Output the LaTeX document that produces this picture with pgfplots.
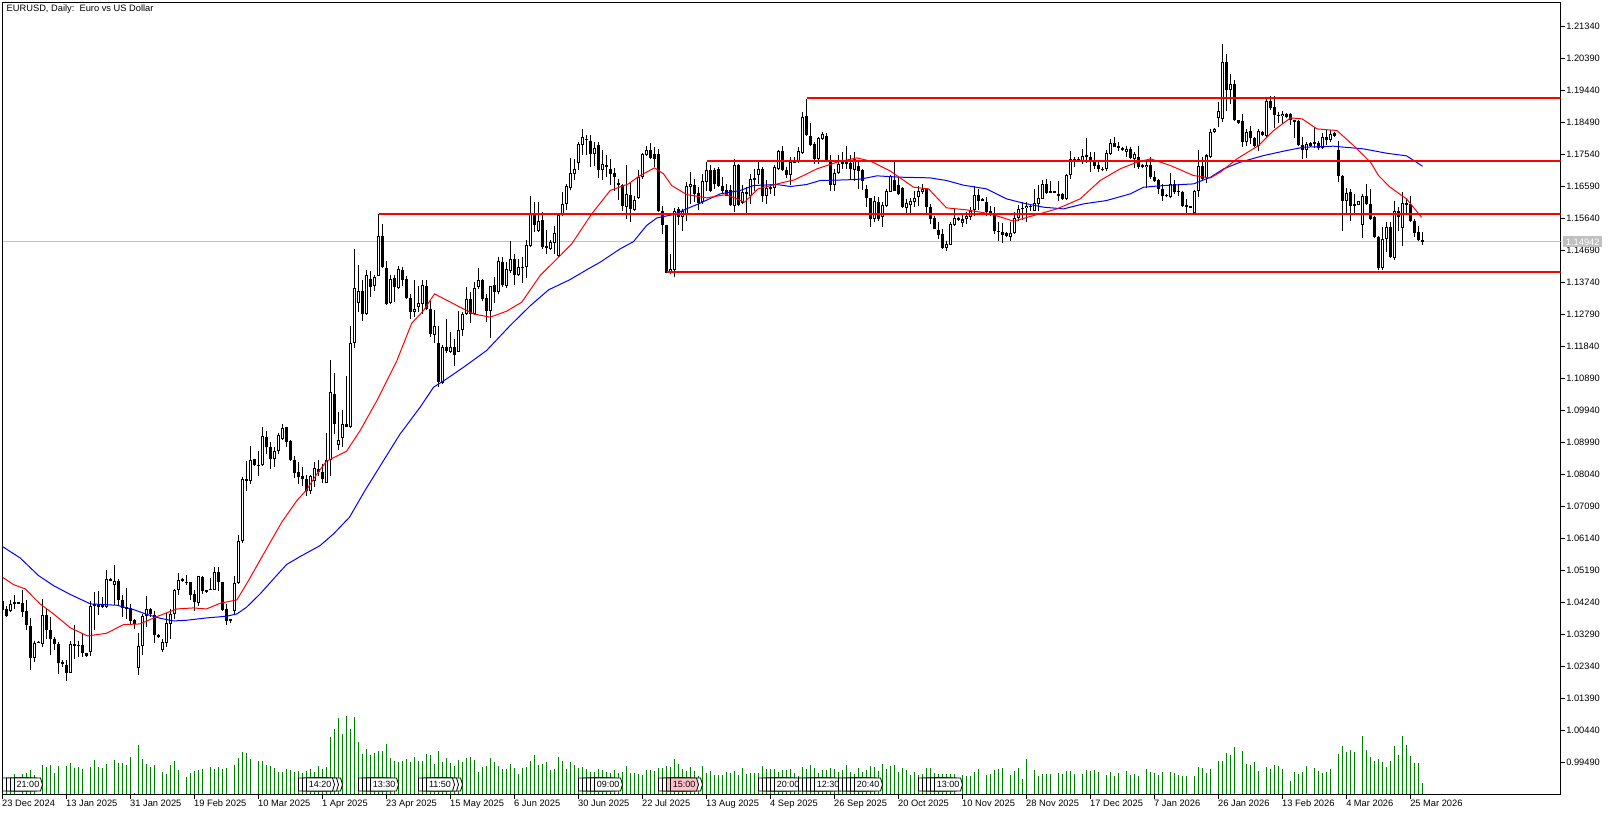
\documentclass[border=0pt]{standalone}
\usepackage{pgfplots}
\usepackage{pgfplotstable}
\usepackage{fontspec}
\setmainfont{Liberation Sans}
\pgfplotsset{compat=1.18}
\definecolor{volgreen}{HTML}{008000}
\definecolor{silverline}{HTML}{C0C0C0}
\definecolor{tagpink}{HTML}{FFC0CB}
\definecolor{tagcyan}{HTML}{E0FFFF}
% up candles: o = bottom of body, c = top of body
\pgfplotstableread{
i o h l c
2 1.0398 1.0430 1.0395 1.0420
3 1.0420 1.0445 1.0405 1.0426
8 1.0259 1.0311 1.0247 1.0305
10 1.0301 1.0435 1.0291 1.0388
17 1.0215 1.0309 1.0215 1.0301
22 1.0277 1.0428 1.0266 1.0415
26 1.0412 1.0521 1.0408 1.0494
28 1.0476 1.0534 1.0418 1.0488
34 1.0230 1.0333 1.0209 1.0295
35 1.0295 1.0390 1.0269 1.0385
36 1.0383 1.0442 1.0351 1.0405
40 1.0283 1.0316 1.0276 1.0307
41 1.0304 1.0392 1.0291 1.0363
42 1.0360 1.0405 1.0316 1.0390
43 1.0390 1.0464 1.0375 1.0462
44 1.0461 1.0513 1.0445 1.0491
49 1.0422 1.0504 1.0415 1.0503
53 1.0462 1.0529 1.0461 1.0516
58 1.0400 1.0504 1.0390 1.0482
59 1.0481 1.0623 1.0479 1.0607
60 1.0606 1.0798 1.0600 1.0791
62 1.0784 1.0890 1.0776 1.0847
65 1.0833 1.0946 1.0829 1.0918
68 1.0849 1.0885 1.0825 1.0874
69 1.0875 1.0926 1.0865 1.0921
70 1.0909 1.0954 1.0906 1.0942
77 1.0756 1.0803 1.0746 1.0800
78 1.0786 1.0840 1.0766 1.0823
81 1.0780 1.0926 1.0778 1.0847
82 1.0847 1.1145 1.0801 1.1049
84 1.0891 1.0989 1.0877 1.0906
85 1.0911 1.0994 1.0885 1.0954
87 1.0944 1.1244 1.0942 1.1195
88 1.1194 1.1474 1.1179 1.1358
89 1.1313 1.1425 1.1286 1.1349
91 1.1279 1.1411 1.1276 1.1397
93 1.1363 1.1397 1.1350 1.1391
94 1.1394 1.1576 1.1392 1.1512
97 1.1312 1.1397 1.1309 1.1385
99 1.1358 1.1424 1.1355 1.1414
103 1.1286 1.1382 1.1273 1.1296
104 1.1300 1.1365 1.1286 1.1313
105 1.1310 1.1382 1.1281 1.1366
108 1.1218 1.1293 1.1194 1.1245
110 1.1076 1.1187 1.1073 1.1183
112 1.1168 1.1228 1.1165 1.1183
114 1.1168 1.1288 1.1167 1.1233
115 1.1233 1.1286 1.1216 1.1281
116 1.1279 1.1362 1.1278 1.1325
118 1.1279 1.1375 1.1278 1.1358
119 1.1362 1.1417 1.1355 1.1382
122 1.1290 1.1365 1.1208 1.1364
124 1.1345 1.1451 1.1340 1.1438
126 1.1365 1.1436 1.1358 1.1414
127 1.1409 1.1496 1.1401 1.1444
129 1.1395 1.1444 1.1392 1.1421
131 1.1419 1.1500 1.1388 1.1486
132 1.1482 1.1632 1.1479 1.1580
134 1.1528 1.1614 1.1523 1.1558
137 1.1474 1.1500 1.1471 1.1493
138 1.1491 1.1543 1.1459 1.1521
139 1.1454 1.1580 1.1451 1.1573
140 1.1573 1.1642 1.1570 1.1608
141 1.1608 1.1667 1.1588 1.1659
142 1.1655 1.1744 1.1649 1.1700
143 1.1695 1.1741 1.1677 1.1712
144 1.1728 1.1791 1.1709 1.1786
145 1.1783 1.1830 1.1751 1.1806
148 1.1754 1.1791 1.1719 1.1774
150 1.1707 1.1766 1.1677 1.1725
156 1.1598 1.1722 1.1563 1.1637
158 1.1588 1.1632 1.1586 1.1620
159 1.1626 1.1707 1.1623 1.1687
160 1.1687 1.1758 1.1682 1.1754
161 1.1751 1.1778 1.1750 1.1768
167 1.1402 1.1459 1.1400 1.1415
168 1.1410 1.1596 1.1390 1.1586
170 1.1568 1.1593 1.1527 1.1586
171 1.1578 1.1672 1.1558 1.1661
172 1.1657 1.1702 1.1606 1.1665
175 1.1613 1.1697 1.1608 1.1674
176 1.1672 1.1733 1.1647 1.1707
183 1.1600 1.1741 1.1583 1.1722
185 1.1611 1.1662 1.1606 1.1644
186 1.1637 1.1657 1.1578 1.1642
187 1.1632 1.1697 1.1608 1.1682
188 1.1679 1.1712 1.1647 1.1685
189 1.1693 1.1731 1.1667 1.1712
191 1.1632 1.1677 1.1608 1.1655
193 1.1655 1.1722 1.1632 1.1718
194 1.1711 1.1768 1.1707 1.1763
197 1.1692 1.1748 1.1664 1.1733
198 1.1731 1.1748 1.1730 1.1733
199 1.1731 1.1776 1.1730 1.1763
200 1.1758 1.1880 1.1754 1.1865
204 1.1741 1.1805 1.1726 1.1803
205 1.1800 1.1822 1.1797 1.1815
208 1.1662 1.1711 1.1647 1.1698
209 1.1698 1.1751 1.1696 1.1726
213 1.1709 1.1761 1.1676 1.1741
218 1.1563 1.1632 1.1553 1.1617
220 1.1568 1.1612 1.1540 1.1604
221 1.1601 1.1652 1.1599 1.1647
222 1.1644 1.1694 1.1642 1.1691
226 1.1595 1.1622 1.1577 1.1610
227 1.1605 1.1625 1.1577 1.1617
228 1.1614 1.1647 1.1597 1.1625
229 1.1627 1.1659 1.1602 1.1645
230 1.1642 1.1666 1.1637 1.1652
236 1.1477 1.1498 1.1467 1.1488
237 1.1486 1.1553 1.1485 1.1548
238 1.1546 1.1592 1.1543 1.1564
240 1.1552 1.1577 1.1540 1.1561
241 1.1561 1.1582 1.1548 1.1572
242 1.1569 1.1597 1.1560 1.1587
243 1.1589 1.1659 1.1572 1.1633
252 1.1510 1.1553 1.1498 1.1521
253 1.1520 1.1582 1.1518 1.1566
254 1.1564 1.1605 1.1556 1.1592
256 1.1595 1.1612 1.1553 1.1602
258 1.1587 1.1652 1.1585 1.1610
259 1.1607 1.1662 1.1585 1.1625
260 1.1622 1.1678 1.1621 1.1666
266 1.1621 1.1696 1.1619 1.1694
267 1.1692 1.1763 1.1681 1.1740
270 1.1736 1.1770 1.1726 1.1750
276 1.1711 1.1768 1.1704 1.1758
277 1.1756 1.1800 1.1751 1.1788
281 1.1761 1.1780 1.1746 1.1770
283 1.1741 1.1761 1.1714 1.1754
286 1.1716 1.1736 1.1655 1.1724
292 1.1627 1.1699 1.1624 1.1665
298 1.1579 1.1649 1.1577 1.1647
299 1.1645 1.1768 1.1629 1.1721
301 1.1684 1.1756 1.1669 1.1751
302 1.1746 1.1830 1.1744 1.1822
303 1.1821 1.1833 1.1819 1.1829
304 1.1862 1.1909 1.1835 1.1884
305 1.1860 1.2082 1.1850 1.2030
307 1.1944 1.1993 1.1904 1.1964
311 1.1790 1.1830 1.1780 1.1821
314 1.1779 1.1830 1.1764 1.1823
316 1.1808 1.1926 1.1807 1.1914
320 1.1868 1.1884 1.1845 1.1875
326 1.1768 1.1790 1.1743 1.1785
330 1.1773 1.1817 1.1771 1.1806
332 1.1798 1.1828 1.1790 1.1815
336 1.1615 1.1655 1.1577 1.1640
339 1.1604 1.1617 1.1603 1.1616
340 1.1545 1.1637 1.1506 1.1632
345 1.1417 1.1538 1.1411 1.1503
346 1.1503 1.1553 1.1464 1.1540
348 1.1447 1.1617 1.1441 1.1586
350 1.1536 1.1642 1.1481 1.1610
}\upcandles
% down candles: o = top of body, c = bottom of body
\pgfplotstableread{
i o h l c
0 1.0427 1.0430 1.0400 1.0403
1 1.0405 1.0413 1.0380 1.0385
4 1.0425 1.0426 1.0419 1.0420
5 1.0423 1.0460 1.0380 1.0397
6 1.0399 1.0430 1.0341 1.0356
7 1.0353 1.0377 1.0224 1.0259
9 1.0308 1.0310 1.0303 1.0304
11 1.0388 1.0405 1.0316 1.0341
12 1.0343 1.0380 1.0269 1.0315
13 1.0317 1.0321 1.0283 1.0300
14 1.0301 1.0308 1.0212 1.0244
15 1.0247 1.0252 1.0232 1.0242
16 1.0237 1.0252 1.0192 1.0215
18 1.0301 1.0356 1.0257 1.0295
19 1.0299 1.0311 1.0262 1.0295
20 1.0299 1.0333 1.0263 1.0273
21 1.0273 1.0275 1.0263 1.0265
23 1.0420 1.0455 1.0341 1.0413
24 1.0418 1.0458 1.0388 1.0412
25 1.0418 1.0440 1.0409 1.0410
27 1.0495 1.0497 1.0487 1.0489
29 1.0489 1.0494 1.0418 1.0432
30 1.0432 1.0447 1.0380 1.0408
31 1.0410 1.0467 1.0375 1.0405
32 1.0407 1.0420 1.0359 1.0370
33 1.0372 1.0375 1.0346 1.0359
37 1.0405 1.0407 1.0380 1.0390
38 1.0387 1.0400 1.0304 1.0327
39 1.0329 1.0331 1.0319 1.0323
45 1.0493 1.0497 1.0485 1.0489
46 1.0486 1.0506 1.0477 1.0481
47 1.0484 1.0486 1.0432 1.0445
48 1.0448 1.0462 1.0398 1.0425
50 1.0501 1.0503 1.0450 1.0457
51 1.0460 1.0462 1.0452 1.0455
52 1.0465 1.0497 1.0460 1.0462
54 1.0516 1.0529 1.0458 1.0484
55 1.0486 1.0486 1.0400 1.0402
56 1.0405 1.0420 1.0358 1.0370
57 1.0375 1.0376 1.0364 1.0370
61 1.0791 1.0845 1.0756 1.0784
63 1.0849 1.0851 1.0829 1.0831
64 1.0833 1.0875 1.0801 1.0829
66 1.0915 1.0932 1.0865 1.0885
67 1.0887 1.0900 1.0820 1.0849
71 1.0944 1.0946 1.0885 1.0900
72 1.0902 1.0905 1.0843 1.0847
73 1.0848 1.0860 1.0794 1.0807
74 1.0811 1.0840 1.0776 1.0798
75 1.0800 1.0825 1.0771 1.0790
76 1.0790 1.0803 1.0741 1.0756
79 1.0819 1.0847 1.0801 1.0810
80 1.0811 1.0835 1.0778 1.0790
83 1.1043 1.1105 1.0924 1.0954
86 1.0954 1.1095 1.0944 1.0946
90 1.1349 1.1380 1.1261 1.1280
92 1.1385 1.1409 1.1332 1.1360
95 1.1512 1.1549 1.1416 1.1419
96 1.1417 1.1439 1.1306 1.1310
98 1.1388 1.1395 1.1315 1.1360
100 1.1411 1.1421 1.1365 1.1382
101 1.1385 1.1392 1.1325 1.1327
102 1.1328 1.1340 1.1265 1.1286
106 1.1364 1.1382 1.1291 1.1294
107 1.1296 1.1320 1.1211 1.1221
109 1.1195 1.1246 1.1063 1.1080
111 1.1183 1.1266 1.1165 1.1170
113 1.1183 1.1206 1.1127 1.1158
117 1.1325 1.1345 1.1253 1.1279
120 1.1382 1.1385 1.1320 1.1324
121 1.1328 1.1340 1.1256 1.1289
123 1.1367 1.1390 1.1312 1.1345
125 1.1435 1.1449 1.1360 1.1368
128 1.1444 1.1459 1.1368 1.1395
130 1.1421 1.1449 1.1372 1.1419
133 1.1580 1.1612 1.1523 1.1544
135 1.1560 1.1583 1.1474 1.1479
136 1.1481 1.1530 1.1459 1.1476
146 1.1801 1.1811 1.1751 1.1797
147 1.1795 1.1811 1.1717 1.1754
149 1.1783 1.1791 1.1685 1.1707
151 1.1723 1.1751 1.1687 1.1720
152 1.1712 1.1741 1.1662 1.1697
153 1.1700 1.1715 1.1647 1.1687
154 1.1670 1.1682 1.1618 1.1662
155 1.1664 1.1667 1.1586 1.1600
157 1.1635 1.1672 1.1555 1.1593
162 1.1766 1.1789 1.1741 1.1744
163 1.1754 1.1776 1.1717 1.1741
164 1.1754 1.1771 1.1583 1.1586
165 1.1586 1.1600 1.1517 1.1545
166 1.1545 1.1546 1.1402 1.1402
169 1.1593 1.1598 1.1546 1.1568
173 1.1664 1.1680 1.1613 1.1637
174 1.1641 1.1657 1.1588 1.1611
177 1.1707 1.1722 1.1642 1.1645
178 1.1707 1.1715 1.1652 1.1667
179 1.1710 1.1718 1.1657 1.1659
180 1.1661 1.1687 1.1637 1.1645
181 1.1649 1.1667 1.1632 1.1632
182 1.1649 1.1662 1.1600 1.1603
184 1.1722 1.1726 1.1600 1.1603
190 1.1710 1.1718 1.1613 1.1632
192 1.1657 1.1665 1.1637 1.1654
195 1.1763 1.1778 1.1705 1.1709
196 1.1709 1.1718 1.1685 1.1692
201 1.1867 1.1920 1.1808 1.1811
202 1.1810 1.1847 1.1780 1.1783
203 1.1785 1.1790 1.1726 1.1741
206 1.1809 1.1817 1.1731 1.1733
207 1.1736 1.1751 1.1645 1.1662
210 1.1731 1.1761 1.1711 1.1726
211 1.1731 1.1780 1.1711 1.1728
212 1.1728 1.1751 1.1678 1.1711
214 1.1720 1.1736 1.1652 1.1706
215 1.1709 1.1711 1.1649 1.1676
216 1.1652 1.1662 1.1599 1.1624
217 1.1624 1.1625 1.1540 1.1563
219 1.1612 1.1627 1.1558 1.1563
223 1.1678 1.1731 1.1645 1.1647
224 1.1664 1.1688 1.1635 1.1637
225 1.1655 1.1657 1.1595 1.1597
231 1.1652 1.1655 1.1575 1.1597
232 1.1599 1.1607 1.1548 1.1561
233 1.1564 1.1572 1.1533 1.1534
234 1.1531 1.1553 1.1503 1.1516
235 1.1518 1.1533 1.1473 1.1476
239 1.1564 1.1568 1.1558 1.1561
244 1.1634 1.1652 1.1589 1.1617
245 1.1621 1.1625 1.1615 1.1619
246 1.1614 1.1627 1.1572 1.1582
247 1.1585 1.1602 1.1572 1.1577
248 1.1579 1.1597 1.1518 1.1526
249 1.1528 1.1553 1.1498 1.1524
250 1.1524 1.1552 1.1490 1.1516
251 1.1520 1.1523 1.1510 1.1511
255 1.1596 1.1612 1.1560 1.1591
257 1.1602 1.1605 1.1587 1.1599
261 1.1666 1.1681 1.1637 1.1640
262 1.1645 1.1674 1.1639 1.1642
263 1.1645 1.1647 1.1640 1.1643
264 1.1637 1.1676 1.1615 1.1634
265 1.1637 1.1639 1.1619 1.1621
268 1.1741 1.1746 1.1716 1.1736
269 1.1741 1.1746 1.1734 1.1736
271 1.1751 1.1803 1.1728 1.1746
272 1.1748 1.1761 1.1703 1.1736
273 1.1736 1.1761 1.1711 1.1721
274 1.1723 1.1738 1.1701 1.1711
275 1.1712 1.1716 1.1704 1.1710
278 1.1788 1.1805 1.1775 1.1777
279 1.1779 1.1790 1.1765 1.1772
280 1.1773 1.1777 1.1765 1.1771
282 1.1770 1.1777 1.1741 1.1744
284 1.1746 1.1780 1.1711 1.1716
285 1.1722 1.1726 1.1714 1.1716
287 1.1724 1.1746 1.1681 1.1686
288 1.1688 1.1706 1.1671 1.1675
289 1.1679 1.1681 1.1637 1.1651
290 1.1653 1.1667 1.1617 1.1632
291 1.1635 1.1637 1.1627 1.1633
293 1.1665 1.1677 1.1637 1.1644
294 1.1647 1.1665 1.1632 1.1642
295 1.1644 1.1647 1.1599 1.1602
296 1.1604 1.1622 1.1581 1.1597
297 1.1600 1.1602 1.1594 1.1598
300 1.1721 1.1746 1.1678 1.1681
306 1.2030 1.2051 1.1882 1.1944
308 1.1964 1.1975 1.1853 1.1855
309 1.1855 1.1857 1.1845 1.1847
310 1.1852 1.1875 1.1776 1.1790
312 1.1823 1.1840 1.1785 1.1803
313 1.1803 1.1807 1.1776 1.1779
315 1.1821 1.1825 1.1809 1.1812
317 1.1914 1.1927 1.1886 1.1892
318 1.1894 1.1928 1.1833 1.1870
319 1.1872 1.1881 1.1847 1.1868
321 1.1874 1.1877 1.1861 1.1865
322 1.1874 1.1876 1.1843 1.1855
323 1.1855 1.1857 1.1802 1.1853
324 1.1853 1.1855 1.1780 1.1783
325 1.1783 1.1807 1.1740 1.1768
327 1.1787 1.1790 1.1776 1.1779
328 1.1791 1.1835 1.1774 1.1787
329 1.1789 1.1795 1.1766 1.1772
331 1.1807 1.1830 1.1783 1.1798
333 1.1818 1.1820 1.1807 1.1808
334 1.1768 1.1795 1.1672 1.1689
335 1.1691 1.1694 1.1528 1.1615
337 1.1642 1.1652 1.1558 1.1602
338 1.1607 1.1637 1.1575 1.1604
341 1.1632 1.1667 1.1605 1.1608
342 1.1608 1.1652 1.1560 1.1563
343 1.1567 1.1570 1.1506 1.1508
344 1.1510 1.1513 1.1411 1.1417
347 1.1540 1.1553 1.1447 1.1449
349 1.1586 1.1597 1.1528 1.1568
351 1.1611 1.1624 1.1577 1.1605
352 1.1607 1.1632 1.1554 1.1556
353 1.1556 1.1563 1.1508 1.1522
354 1.1525 1.1543 1.1498 1.1501
355 1.1500 1.1523 1.1485 1.1494
}\downcandles
\newcommand\wicks[1]{\addplot[forget plot,draw=none,mark=none,
  error bars/.cd,y dir=minus,y explicit,error mark=none,
  error bar style={draw=black,solid,line width=1pt}]
  table[x=i,y=h,y error minus expr={\thisrow{h}-\thisrow{l}}]{#1};}
\newcommand\tagbox[3]{\draw[black,line width=0.8pt,fill=#3]
  (axis cs:#1,3.5) -- ++(26pt,0pt) -- ++(2pt,6.5pt) -- ++(-2pt,6.5pt) -- ++(-26pt,0pt) -- cycle;
  \path (axis cs:#1,3.5) ++(13.5pt,6.5pt) node[inner sep=0pt,font=\fontsize{9}{10}\selectfont]{#2};}
\begin{document}
\begin{tikzpicture}
\useasboundingbox (-2.5pt,-20.5pt) rectangle (1610.5pt,794.5pt);
% volume, in pixels above the bottom of the frame
\begin{axis}[at={(0pt,0pt)},anchor=south west,scale only axis,width=1558pt,height=792pt,
  hide axis,xmin=0,xmax=389.5,ymin=0,ymax=792]
\addplot[ycomb,mark=none,draw=volgreen,line width=1pt] coordinates {
(0,14)(1,14)(2,15)(3,21)(5,21)(6,22)(7,25)(8,20)(10,30)(11,28)(12,30)(13,22)(14,29)(16,29)(17,32)(18,27)(19,28)(20,26)(22,28)(23,35)(24,28)(25,27)(26,31)(28,35)(29,32)(30,32)(31,30)(32,38)(33,2)(34,50)(35,36)(36,31)(37,28)(38,30)(40,23)(41,21)(42,30)(43,34)(44,25)(46,18)(47,22)(48,24)(49,25)(50,26)(52,28)(53,26)(54,28)(55,26)(56,27)(58,30)(59,37)(60,43)(61,42)(62,36)(64,34)(65,34)(66,30)(67,29)(68,27)(69,23)(70,23)(71,26)(72,25)(73,23)(74,24)(75,22)(76,24)(77,26)(78,23)(79,29)(80,26)(81,28)(82,58)(83,66)(84,77)(85,61)(86,79)(87,66)(88,78)(89,53)(90,41)(91,46)(92,40)(93,42)(94,44)(95,44)(96,51)(97,37)(98,34)(99,33)
(100,34)(101,36)(102,33)(103,38)(104,34)(105,34)(106,41)(107,40)(108,31)(109,44)(110,33)(111,37)(112,32)(113,29)(114,35)(115,33)(116,37)(117,38)(118,35)(119,23)(120,28)(121,29)(122,37)(123,33)(124,29)(125,26)(126,26)(127,31)(128,27)(129,21)(130,27)(131,28)(132,34)(133,40)(134,30)(135,31)(136,33)(137,25)(138,26)(139,38)(140,34)(141,26)(142,33)(143,30)(144,27)(145,28)(146,26)(147,23)(148,23)(149,26)(150,25)(151,23)(152,22)(153,25)(154,22)(155,23)(156,29)(157,22)(158,22)(159,21)(160,20)(161,25)(162,25)(163,24)(164,27)(165,27)(166,29)(167,28)(168,36)(169,31)(170,26)(171,24)(172,28)(173,24)(174,19)(175,29)(176,22)(177,24)(178,20)(179,20)(180,20)(181,23)(182,22)(183,24)(184,20)(185,27)(186,21)(187,22)(188,22)(189,22)(190,29)(191,26)(192,26)(193,26)(194,23)(195,25)(196,25)(197,26)(198,22)(199,19)(200,28)(201,26)(202,30)(203,27)(204,22)(205,25)(206,25)(207,27)(208,26)(209,23)(210,25)(211,30)(212,23)(213,21)(214,27)(215,23)(216,25)(217,29)(218,28)(219,24)(220,31)(221,26)(222,29)(223,30)(224,23)
(225,27)(226,25)(227,20)(228,23)(229,20)(230,21)(231,27)(232,27)(233,22)(234,21)(235,21)(236,21)(237,21)(238,21)(240,20)(241,19)(242,19)(243,23)(244,26)(246,20)(247,21)(248,25)(249,26)(250,27)(252,20)(253,24)(254,27)(255,16)(256,36)(258,25)(259,19)(260,21)(261,21)(262,21)(264,22)(265,21)(266,24)(267,24)(268,21)(270,21)(271,25)(272,24)(273,25)(274,23)(276,20)(277,23)(278,19)(279,22)(281,24)(282,20)(283,21)(284,19)(286,26)(287,23)(288,22)(289,20)(290,23)(292,23)(293,22)(294,20)(295,19)(296,19)(298,19)(299,28)(300,27)(301,22)(302,26)(304,34)(305,34)(306,42)(307,40)(308,48)(310,44)(311,31)(312,30)(313,33)(314,24)(316,28)(317,26)(318,30)(319,29)(320,26)(322,14)(323,23)(324,21)(325,23)(326,29)(328,27)(329,24)(330,22)(331,23)(332,26)(334,41)(335,49)(336,43)(337,45)(338,43)(339,1)(340,59)(341,45)(342,38)(343,34)(344,36)(345,33)(346,28)(347,34)(348,49)(349,40)(350,59)(351,50)(352,39)(353,32)(354,32)(355,12)
};
% event tags along the bottom
\tagbox{0}{}{white}\tagbox{1}{}{white}\tagbox{2}{}{tagcyan}\tagbox{3}{21:00}{white}
\tagbox{78}{}{white}\tagbox{77}{}{white}\tagbox{74}{}{white}\tagbox{75}{}{white}\tagbox{76}{14:20}{white}
\tagbox{89}{}{white}\tagbox{90}{}{white}\tagbox{91}{}{white}\tagbox{92}{13:30}{white}
\tagbox{108}{}{white}\tagbox{107}{}{white}\tagbox{104}{}{white}\tagbox{105}{}{white}\tagbox{106}{11:50}{white}
\tagbox{144}{}{white}\tagbox{145}{}{tagcyan}\tagbox{146}{}{white}\tagbox{147}{}{white}\tagbox{148}{09:00}{white}
\tagbox{168}{}{white}\tagbox{164}{}{white}\tagbox{165}{}{white}\tagbox{166}{}{tagpink}\tagbox{167}{15:00}{tagpink}
\tagbox{189}{}{white}\tagbox{190}{}{white}\tagbox{191}{}{white}\tagbox{192}{}{white}\tagbox{193}{20:00}{white}
\tagbox{199}{}{white}\tagbox{200}{}{white}\tagbox{201}{}{white}\tagbox{202}{}{white}\tagbox{203}{12:30}{white}
\tagbox{209}{}{white}\tagbox{210}{}{white}\tagbox{211}{}{white}\tagbox{212}{}{white}\tagbox{213}{20:40}{white}
\tagbox{229}{}{white}\tagbox{230}{}{white}\tagbox{231}{}{white}\tagbox{232}{}{white}\tagbox{233}{13:00}{white}
\end{axis}
% price
\begin{axis}[at={(0pt,0pt)},anchor=south west,scale only axis,width=1558pt,height=792pt,
  xmin=0,xmax=389.5,ymin=0.98540,ymax=1.22052,
  axis line style={line width=1pt,black},
  tick align=outside,major tick length=4pt,tick style={black,line width=1pt},
  xtick pos=bottom,ytick pos=right,yticklabel pos=right,
  xtick={0,16,...,352},
  xticklabels={23 Dec 2024,13 Jan 2025,31 Jan 2025,19 Feb 2025,10 Mar 2025,1 Apr 2025,23 Apr 2025,15 May 2025,6 Jun 2025,30 Jun 2025,22 Jul 2025,13 Aug 2025,4 Sep 2025,26 Sep 2025,20 Oct 2025,10 Nov 2025,28 Nov 2025,17 Dec 2025,7 Jan 2026,26 Jan 2026,13 Feb 2026,4 Mar 2026,25 Mar 2026},
  ytick={1.2134,1.2039,1.1944,1.1849,1.1754,1.1659,1.1564,1.1469,1.1374,1.1279,1.1184,1.1089,1.0994,1.0899,1.0804,1.0709,1.0614,1.0519,1.0424,1.0329,1.0234,1.0139,1.0044,0.9949},
  yticklabels={1.21340,1.20390,1.19440,1.18490,1.17540,1.16590,1.15640,1.14690,1.13740,1.12790,1.11840,1.10890,1.09940,1.08990,1.08040,1.07090,1.06140,1.05190,1.04240,1.03290,1.02340,1.01390,1.00440,0.99490},
  x tick label style={anchor=north west,inner sep=0pt,xshift=-0.5pt,yshift=-1.5pt,font=\fontsize{9.3}{11}\selectfont},
  y tick label style={anchor=west,inner sep=0pt,xshift=1.5pt,font=\fontsize{9.3}{11}\selectfont}]
\addplot[forget plot,silverline,line width=1pt] coordinates {(0,1.14942)(389.5,1.14942)};
\wicks{\upcandles}
\wicks{\downcandles}
\addplot[forget plot,draw=none,mark=none,error bars/.cd,y dir=minus,y explicit,error mark=none,
  error bar style={draw=black,solid,line width=3pt}]
  table[x=i,y=o,y error minus expr={max(\thisrow{o}-\thisrow{c},0.0005)}]{\downcandles};
\addplot[forget plot,draw=none,mark=none,error bars/.cd,y dir=minus,y explicit,error mark=none,
  error bar style={draw=black,solid,line width=3pt}]
  table[x=i,y=c,y error minus expr={max(\thisrow{c}-\thisrow{o},0.0005)}]{\upcandles};
\addplot[forget plot,draw=none,mark=none,error bars/.cd,y dir=minus,y explicit,error mark=none,
  error bar style={draw=white,solid,line width=1pt}]
  table[x=i,y expr={\thisrow{c}-0.0003},y error minus expr={max(\thisrow{c}-\thisrow{o}-0.0006,0)}]{\upcandles};
% slow average
\addplot[blue,line width=1pt,mark=none] coordinates {
(0,1.05901)(4.4,1.05564)(9,1.05040)(12.75,1.04742)(17,1.04475)(22,1.04198)(28.6,1.04158)(32.75,1.04030)(36,1.03891)(39.4,1.03772)(42.75,1.03693)(46,1.03713)(51,1.03782)(56,1.03832)(58.6,1.03901)(61,1.04099)(64.4,1.04495)(67.75,1.04940)(71,1.05366)(74.4,1.05604)(79.4,1.05930)(82.75,1.06277)(86.75,1.06772)(90.7,1.07581)(95.25,1.08452)(99.4,1.09244)(104.4,1.10036)(107.75,1.10630)(111,1.10877)(115.25,1.11224)(121,1.11719)(126.9,1.12461)(132,1.13056)(136.5,1.13521)(141.9,1.13827)(146,1.14114)(149.4,1.14342)(154.4,1.14737)(157.75,1.14955)(161,1.15430)(163.6,1.15658)(167.75,1.15757)(171,1.15926)(174.4,1.16094)(179.4,1.16371)(184.4,1.16470)(187.75,1.16619)(193.6,1.16648)(197,1.16589)(201,1.16648)(204.4,1.16767)(211,1.16787)(214.4,1.16807)(218.6,1.16906)(224.4,1.16866)(231.9,1.16846)(236,1.16767)(240.25,1.16628)(246,1.16519)(251,1.16222)(255.25,1.16094)(260.25,1.15975)(265.25,1.15925)(270.25,1.16074)(276,1.16173)(281.9,1.16370)(285.25,1.16568)(290.25,1.16618)(297.75,1.16667)(302,1.16865)(305.25,1.17112)(309.4,1.17310)(315.25,1.17508)(321,1.17657)(325.25,1.17756)(332.75,1.17786)(340.25,1.17706)(346,1.17578)(351,1.17499)(355,1.17192)};
% fast average
\addplot[red,line width=1pt,mark=none] coordinates {
(0,1.04990)(2.75,1.04772)(5.7,1.04643)(9.4,1.04198)(12.75,1.03901)(17,1.03485)(21.25,1.03248)(26,1.03327)(30.25,1.03584)(34.4,1.03604)(38.6,1.03822)(43.6,1.04049)(47.75,1.04079)(51,1.04049)(54.4,1.04218)(58.6,1.04317)(61.5,1.04891)(66,1.05832)(69.8,1.06623)(73.6,1.07267)(76,1.07581)(78.6,1.08056)(81,1.08432)(86,1.08729)(89.4,1.09343)(93.6,1.10234)(98.6,1.11422)(102.3,1.12531)(105.25,1.12907)(108,1.13402)(114.4,1.13006)(117.75,1.12808)(121.9,1.12709)(126,1.12887)(129.8,1.13154)(134.4,1.13946)(139,1.14490)(142.3,1.14886)(147.3,1.15777)(151.9,1.16470)(156.5,1.16668)(159,1.16886)(163,1.17143)(165.25,1.16965)(167.3,1.16618)(171,1.16351)(176,1.16252)(181,1.16351)(185.5,1.16124)(188.9,1.16520)(194.4,1.16688)(198,1.16787)(203.6,1.17113)(208.6,1.17311)(213.6,1.17440)(217,1.17341)(222,1.17044)(227.75,1.16569)(231.5,1.16519)(236,1.15955)(241,1.15896)(247,1.15777)(252.75,1.15559)(257.75,1.15727)(263.6,1.15925)(269.4,1.16222)(274.4,1.16767)(279.4,1.17113)(283.6,1.17311)(287,1.17410)(292,1.17211)(297.75,1.16914)(302,1.16845)(304.4,1.17013)(308.6,1.17410)(314,1.17806)(317.75,1.18251)(322,1.18627)(324.9,1.18597)(328.6,1.18300)(333.6,1.18251)(337.75,1.17806)(342,1.17310)(344,1.16914)(346.9,1.16568)(351,1.16222)(354.75,1.15677)};
% support and resistance levels
\addplot[red,line width=2pt,mark=none] coordinates {(201,1.19203)(389.5,1.19203)};
\addplot[red,line width=2pt,mark=none] coordinates {(176,1.17332)(389.5,1.17332)};
\addplot[red,line width=2pt,mark=none] coordinates {(94,1.15759)(389.5,1.15759)};
\addplot[red,line width=2pt,mark=none] coordinates {(166,1.14037)(389.5,1.14037)};
\path (axis cs:389.5,1.14942) coordinate (lastprice);
\end{axis}
\node[anchor=west,fill=silverline,text=white,inner sep=0pt,minimum width=39pt,minimum height=11pt,
  font=\fontsize{9.3}{11}\selectfont,xshift=2.5pt] at (lastprice) {1.14942};
\node[anchor=west,inner sep=0pt,font=\fontsize{9.3}{11}\selectfont] at (4pt,785.5pt) {EURUSD, Daily:\ \ Euro vs US Dollar};
\end{tikzpicture}
\end{document}
